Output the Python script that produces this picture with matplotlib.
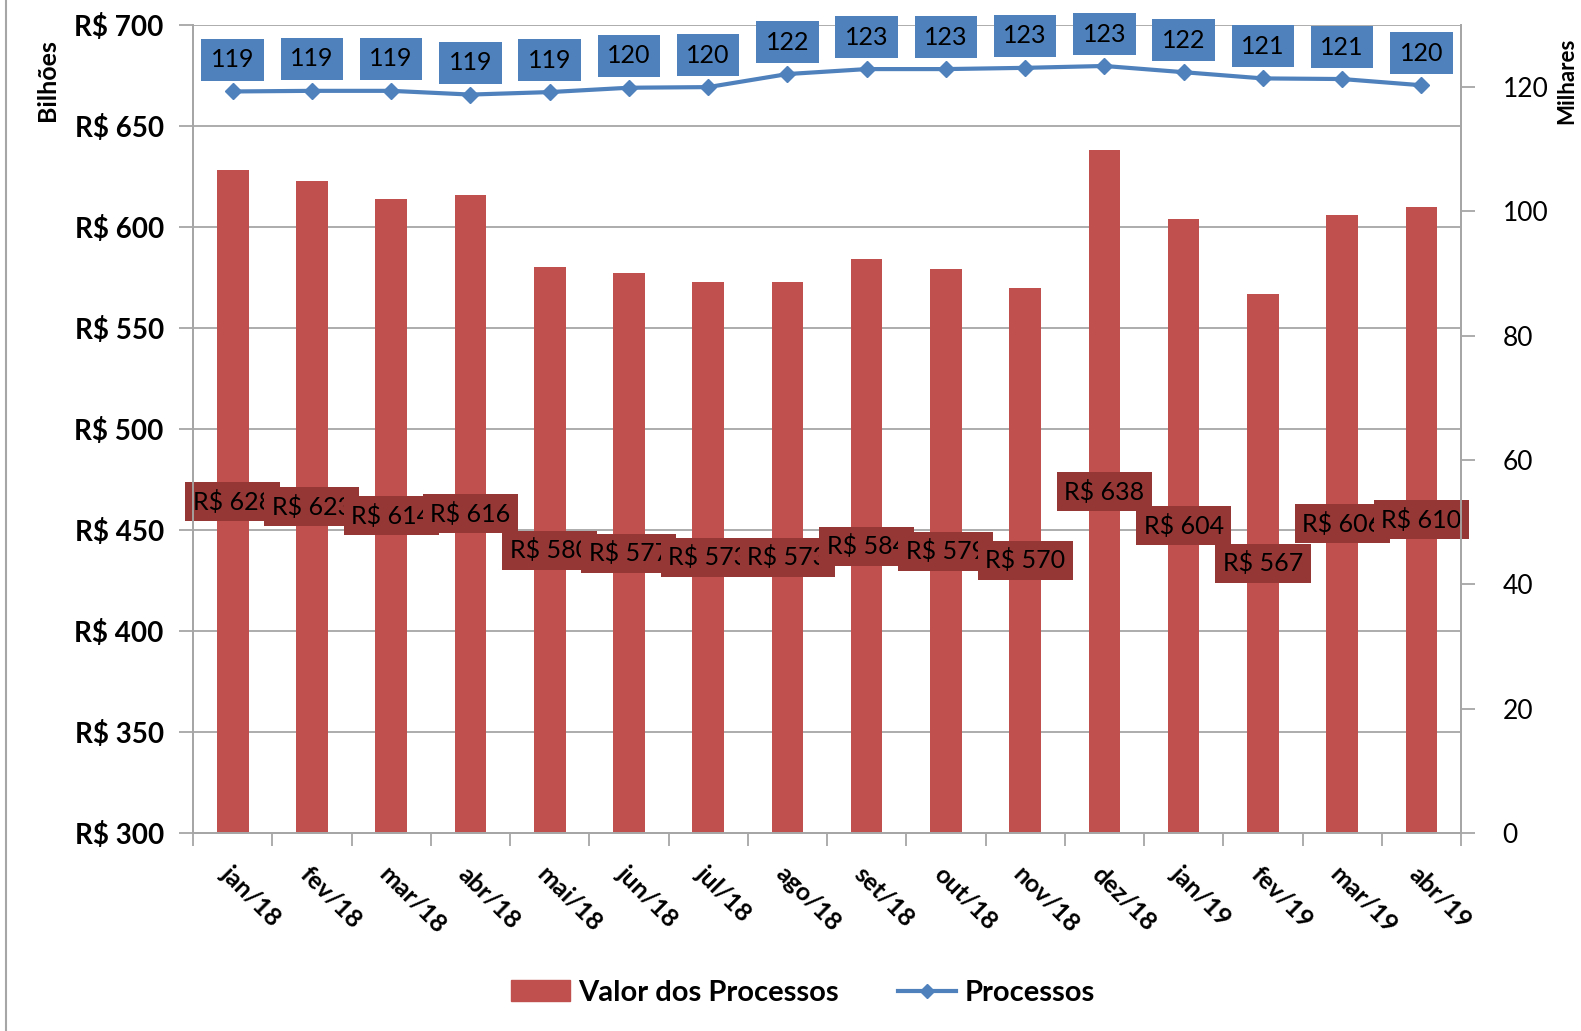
import matplotlib
matplotlib.use("Agg")
import matplotlib.pyplot as plt
import numpy as np
from matplotlib.lines import Line2D
from matplotlib.patches import Patch

plt.rcParams['font.family'] = ['Lato', 'DejaVu Sans']

# dados
meses = ['jan/18', 'fev/18', 'mar/18', 'abr/18', 'mai/18', 'jun/18', 'jul/18',
         'ago/18', 'set/18', 'out/18', 'nov/18', 'dez/18', 'jan/19', 'fev/19',
         'mar/19', 'abr/19']
valor = [628, 623, 614, 616, 580, 577, 573, 573, 584, 579, 570, 638, 604, 567,
         606, 610]
processos = [119.3, 119.4, 119.4, 118.8, 119.2, 119.9, 120.0, 122.1, 122.9,
             122.9, 123.1, 123.4, 122.4, 121.4, 121.3, 120.3]

RED = '#C0504D'
DARKRED = '#953735'
BLUE = '#4F81BD'
GRID = '#A6A6A6'

fig = plt.figure(figsize=(15.81, 10.31), dpi=100)
ax = fig.add_axes([0.1221, 0.192, 0.802, 0.7838])
ax2 = ax.twinx()

x = np.arange(len(meses))
ax.bar(x, [v - 300 for v in valor], bottom=300, width=0.4, color=RED, zorder=2)
ax.set_ylim(300, 700)
ax.set_xlim(-0.5, len(meses) - 0.5)
ax.set_yticks(range(300, 701, 50))
ax.set_yticklabels(['R$ %d' % v for v in range(300, 701, 50)],
                   fontsize=20, fontweight='bold')
ax.yaxis.grid(True, color=GRID, linewidth=1.3, zorder=0)
ax.set_axisbelow(True)

# ticks nas divisas das categorias
ax.set_xticks(np.arange(-0.5, len(meses), 1))
ax.set_xticklabels([])
ax.set_xticks(x, minor=True)
ax.set_xticklabels(meses, minor=True, rotation=-45, ha='left',
                   rotation_mode='anchor', fontsize=18, fontweight='bold')
ax.tick_params(axis='x', which='major', length=9, color=GRID, width=1.3)
ax.tick_params(axis='x', which='minor', length=0, pad=21)
ax.tick_params(axis='y', length=10, color=GRID, width=1.3, pad=11)

for a in (ax, ax2):
    a.spines['top'].set_visible(False)
    for s in ['left', 'bottom', 'right']:
        a.spines[s].set_color(GRID)
        a.spines[s].set_linewidth(1.3)

for i, v in enumerate(valor):
    ax.text(i, (300 + v) / 2, 'R$ %d' % v, ha='center', va='center',
            fontsize=18, color='black', zorder=10 + i,
            bbox=dict(boxstyle='square,pad=0.3', fc=DARKRED, ec='none'))

ax2.plot(x, processos, color=BLUE, linewidth=3, marker='D', markersize=8,
         zorder=5)
ax2.set_ylim(0, 130)
ax2.set_yticks(range(0, 121, 20))
ax2.tick_params(axis='y', length=10, color=GRID, width=1.3, labelsize=19,
                pad=20)
for i, p in enumerate(processos):
    ax2.annotate('%d' % round(p), (i, p), xytext=(0, 23),
                 textcoords='offset points', ha='center', va='center',
                 fontsize=18, color='black', zorder=30,
                 bbox=dict(boxstyle='square,pad=0.38', fc=BLUE, ec='none'))

fig.text(0.030, 0.922, 'Bilhões', rotation=90, ha='center', va='center',
         fontsize=18, fontweight='bold')
fig.text(0.991, 0.922, 'Milhares', rotation=90, ha='center', va='center',
         fontsize=16, fontweight='bold')

handles = [Patch(color=RED),
           Line2D([], [], color=BLUE, linewidth=3, marker='D', markersize=7)]
fig.legend(handles, ['Valor dos Processos', 'Processos'], loc='center',
           bbox_to_anchor=(0.508, 0.037), ncol=2, frameon=False,
           prop=dict(size=21, weight='bold'), columnspacing=2.0,
           handlelength=2.0, handletextpad=0.3)

# borda esquerda
fig.add_artist(Line2D([0.004, 0.004], [0.0, 1.0], color=GRID, linewidth=1.5))

fig.savefig('out.png', dpi=100)
